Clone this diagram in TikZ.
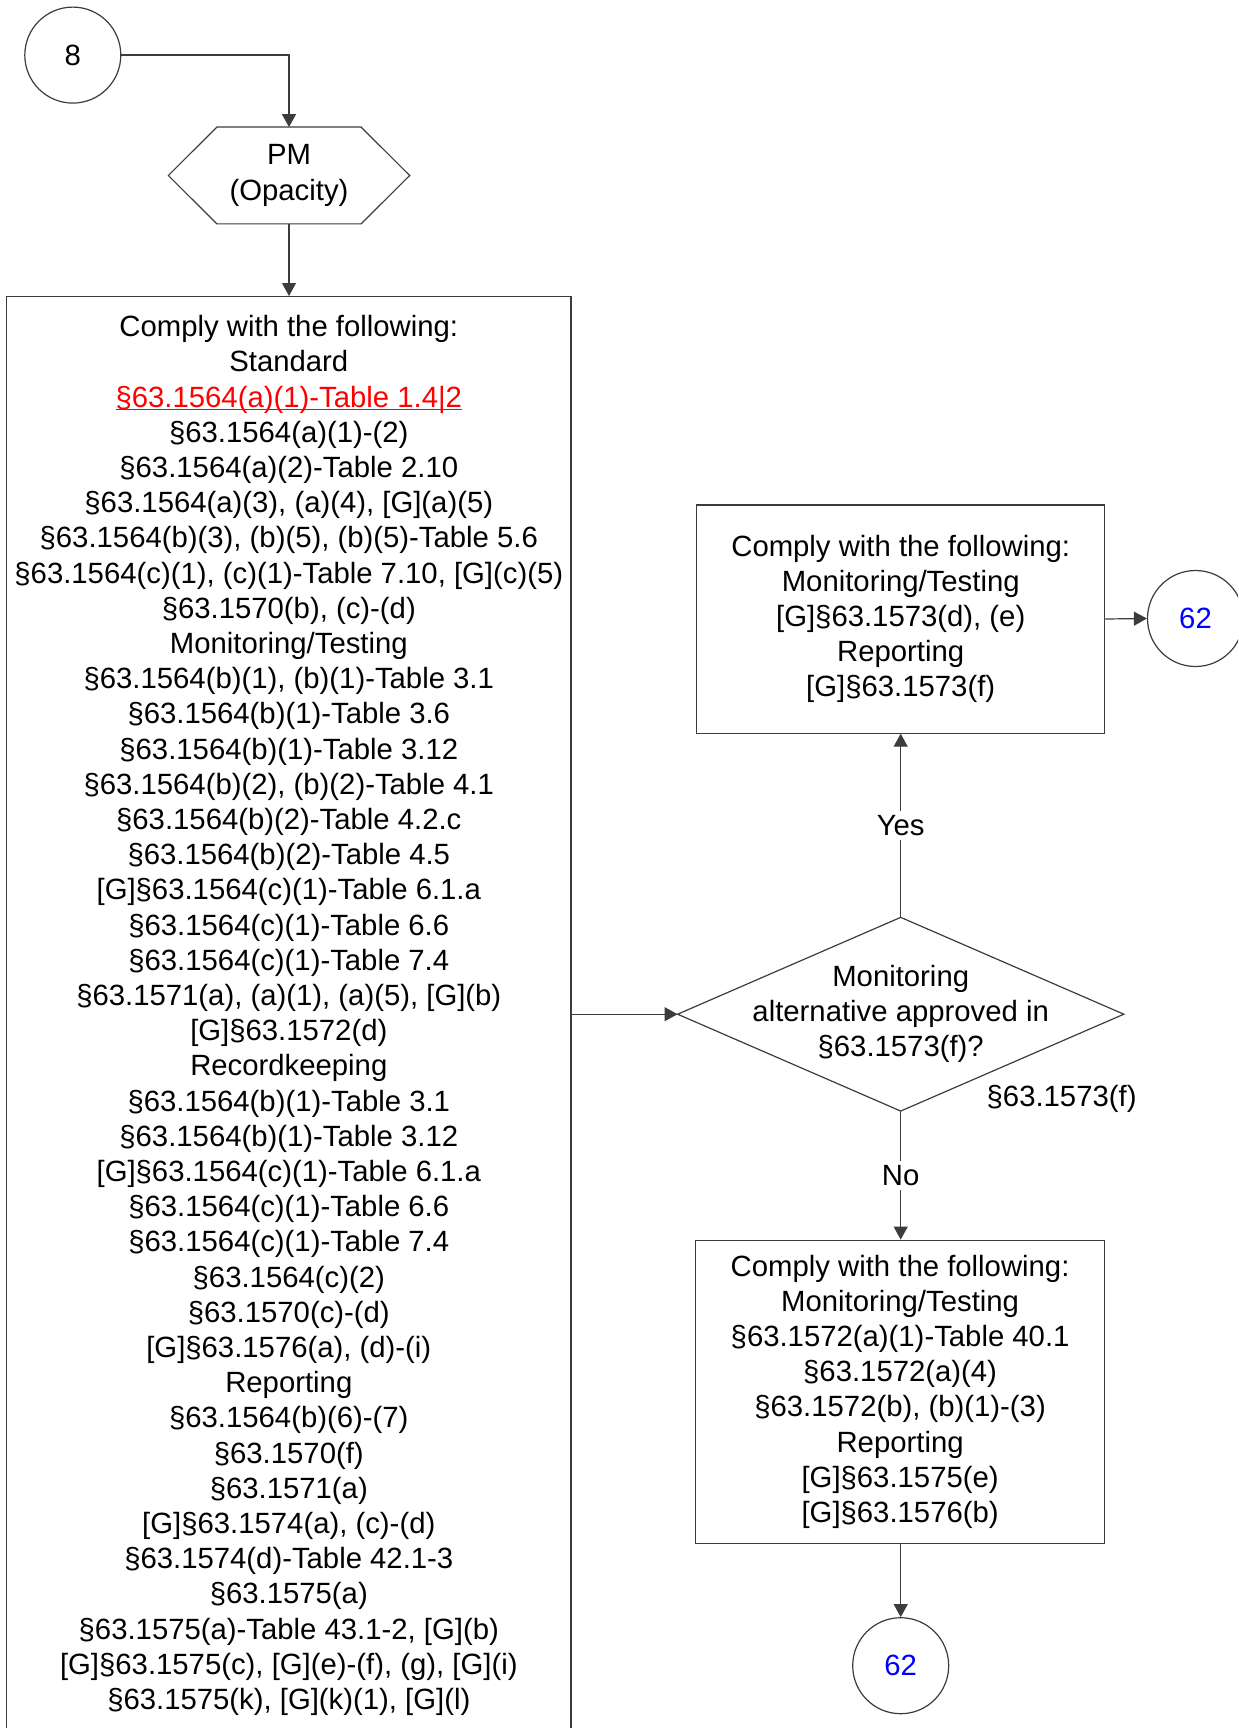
\documentclass[tikz,border=0pt]{standalone}
\usepackage{fontspec}
\setmainfont{Liberation Sans}
\usetikzlibrary{arrows.meta}
\definecolor{lnc}{RGB}{60,60,60}
\newsavebox{\ulbox}
\newcommand{\myul}[1]{\sbox{\ulbox}{#1}\rlap{\rule[-1.6pt]{\wd\ulbox}{0.6pt}}\usebox{\ulbox}}
\begin{document}
\begin{tikzpicture}[x=0.5pt,y=-0.5pt,
  font=\fontsize{14.65pt}{17.6pt}\selectfont,
  every node/.style={inner sep=0pt, align=center},
  boxst/.style={draw=lnc, line width=0.6pt, rectangle},
  conn/.style={draw=lnc, line width=0.6pt, circle, minimum size=48pt},
  arr/.style={draw=lnc, line width=0.6pt, -{Triangle[length=6.5pt,width=7pt]}},
  ln/.style={draw=lnc, line width=0.6pt},
  lbl/.style={fill=white, inner sep=2pt}]
\useasboundingbox (0,0) rectangle (1238,1728);
\clip (0,0) rectangle (1238,1728);

\node[conn] (c8) at (72.8,55.1) {8};

\node[minimum width=120.25pt, minimum height=48pt] (pm) at (289,175.5) {PM\\(Opacity)};
\draw[ln] (pm.west) -- ([xshift=24.25pt]pm.north west) -- ([xshift=-24.25pt]pm.north east)
  -- (pm.east) -- ([xshift=-24.25pt]pm.south east) -- ([xshift=24.25pt]pm.south west) -- cycle;

\node[boxst, minimum width=282.2pt, minimum height=718.9pt] (big) at (288.8,1015.5) {%
Comply with the following:\\
Standard\\
\textcolor{red}{\myul{§63.1564(a)(1)-Table 1.4|2}}\\
§63.1564(a)(1)-(2)\\
§63.1564(a)(2)-Table 2.10\\
§63.1564(a)(3), (a)(4), [G](a)(5)\\
§63.1564(b)(3), (b)(5), (b)(5)-Table 5.6\\
§63.1564(c)(1), (c)(1)-Table 7.10, [G](c)(5)\\
§63.1570(b), (c)-(d)\\
Monitoring/Testing\\
§63.1564(b)(1), (b)(1)-Table 3.1\\
§63.1564(b)(1)-Table 3.6\\
§63.1564(b)(1)-Table 3.12\\
§63.1564(b)(2), (b)(2)-Table 4.1\\
§63.1564(b)(2)-Table 4.2.c\\
§63.1564(b)(2)-Table 4.5\\
{[G]}§63.1564(c)(1)-Table 6.1.a\\
§63.1564(c)(1)-Table 6.6\\
§63.1564(c)(1)-Table 7.4\\
§63.1571(a), (a)(1), (a)(5), [G](b)\\
{[G]}§63.1572(d)\\
Recordkeeping\\
§63.1564(b)(1)-Table 3.1\\
§63.1564(b)(1)-Table 3.12\\
{[G]}§63.1564(c)(1)-Table 6.1.a\\
§63.1564(c)(1)-Table 6.6\\
§63.1564(c)(1)-Table 7.4\\
§63.1564(c)(2)\\
§63.1570(c)-(d)\\
{[G]}§63.1576(a), (d)-(i)\\
Reporting\\
§63.1564(b)(6)-(7)\\
§63.1570(f)\\
§63.1571(a)\\
{[G]}§63.1574(a), (c)-(d)\\
§63.1574(d)-Table 42.1-3\\
§63.1575(a)\\
§63.1575(a)-Table 43.1-2, [G](b)\\
{[G]}§63.1575(c), [G](e)-(f), (g), [G](i)\\
§63.1575(k), [G](k)(1), [G](l)};

\node[boxst, minimum width=203.95pt, minimum height=114.1pt] (tr) at (900.7,619) {%
Comply with the following:\\
Monitoring/Testing\\
{[G]}§63.1573(d), (e)\\
Reporting\\
{[G]}§63.1573(f)};

\node[conn, text=blue] (c62a) at (1195.5,618.5) {62};

\node[minimum width=222.7pt, minimum height=96.45pt] (dia) at (900.7,1014.2) {%
Monitoring\\alternative approved in\\§63.1573(f)?};
\draw[ln] (dia.west) -- (dia.north) -- (dia.east) -- (dia.south) -- cycle;

\node (ref) at (1061.6,1098.5) {§63.1573(f)};

\node[boxst, minimum width=204.5pt, minimum height=151.6pt] (br) at (900.1,1391.8) {%
Comply with the following:\\
Monitoring/Testing\\
§63.1572(a)(1)-Table 40.1\\
§63.1572(a)(4)\\
§63.1572(b), (b)(1)-(3)\\
Reporting\\
{[G]}§63.1575(e)\\
{[G]}§63.1576(b)};

\node[conn, text=blue] (c62b) at (900.7,1665.7) {62};

\draw[arr] (c8.east) -| (pm.north);
\draw[arr] (pm.south) -- (pm.south |- big.north);
\draw[arr] (big.east |- dia.west) -- (dia.west);
\draw[arr] (dia.north) -- node[lbl] (yes) {Yes} (dia.north |- tr.south);
\draw[arr] (dia.south) -- node[lbl] (no) {No} (dia.south |- br.north);
\draw[arr] (tr.east) -- (c62a.west);
\draw[arr] (br.south -| c62b.north) -- (c62b.north);
\end{tikzpicture}
\end{document}
